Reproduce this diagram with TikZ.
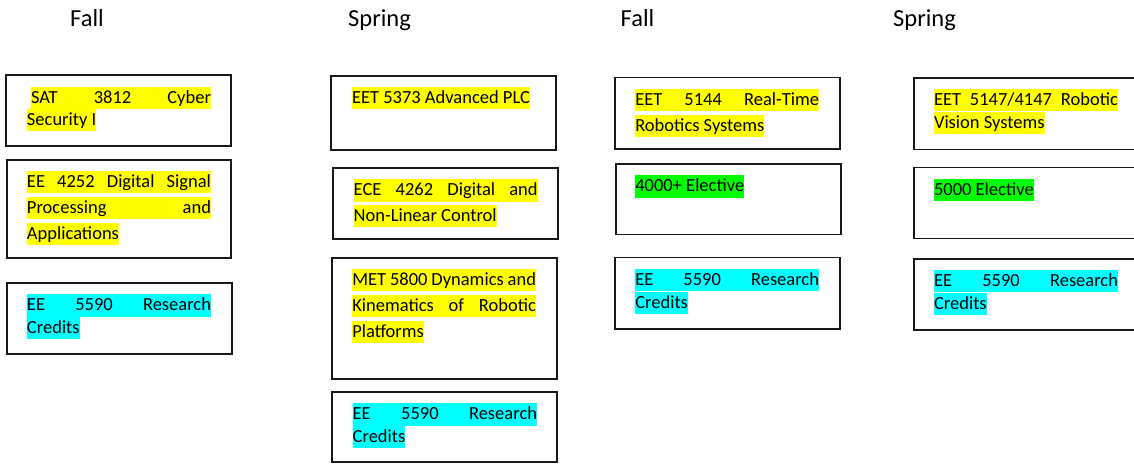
\documentclass[tikz,border=0pt]{standalone}
\usepackage{fontspec}
\setmainfont{Carlito}
\definecolor{hlyellow}{RGB}{255,255,0}
\definecolor{hlcyan}{RGB}{0,255,255}
\definecolor{hlgreen}{RGB}{0,255,0}
\begin{document}
\begin{tikzpicture}[x=1pt,y=-1pt,
  cbox/.style={draw=black!90, line width=1.6pt, inner sep=0pt, outer sep=0pt, anchor=north west},
  hl/.style={anchor=north west, inner sep=0pt, outer sep=0pt, text height=16.5pt, text depth=5.8pt, font=\fontsize{18.5}{22}\selectfont},
  yl/.style={hl, fill=hlyellow},
  cy/.style={hl, fill=hlcyan},
  gr/.style={hl, fill=hlgreen},
  head/.style={anchor=base west, inner sep=0pt, font=\fontsize{24.5}{28}\selectfont}]
\useasboundingbox (0,0) rectangle (1134,463);

% headers
\node[head] (h1) at (70,26.7) {Fall};
\node[head] (h2) at (348,26.7) {Spring};
\node[head] (h3) at (620.5,26.7) {Fall};
\node[head] (h4) at (893,26.7) {Spring};

% column 1
\node[cbox, minimum width=225pt, minimum height=71pt] (a1) at (6,75) {};
\node[cbox, minimum width=224pt, minimum height=98pt] (a2) at (7,160) {};
\node[cbox, minimum width=225pt, minimum height=71pt] (a3) at (7,283) {};
\node[yl] (a1l1) at (31,86.7) {\hbox to 180pt{SAT\hfill 3812\hfill Cyber}};
\node[yl] (a1l2) at (27,109) {Security I};
\node[yl] (a2l1) at (27,171) {\hbox to 184pt{EE\hfill 4252\hfill Digital\hfill Signal}};
\node[yl] (a2l2) at (27,197) {\hbox to 184pt{Processing\hfill and}};
\node[yl] (a2l3) at (27,223) {Applications};
\node[cy] (a3l1) at (27,294.3) {\hbox to 184pt{EE\hfill 5590\hfill Research}};
\node[cy] (a3l2) at (27,316.7) {Credits};

% column 2
\node[cbox, minimum width=225pt, minimum height=74.3pt] (b1) at (331,75.7) {};
\node[cbox, minimum width=225pt, minimum height=71.3pt] (b2) at (333,167.7) {};
\node[cbox, minimum width=225pt, minimum height=120.7pt] (b3) at (332,258) {};
\node[cbox, minimum width=225pt, minimum height=70.3pt] (b4) at (332,391.7) {};
\node[yl] (b1l1) at (352,86.5) {EET 5373 Advanced PLC};
\node[yl] (b2l1) at (353.7,179.3) {\hbox to 184pt{ECE\hfill 4262\hfill Digital\hfill and}};
\node[yl] (b2l2) at (353.7,205) {Non-Linear Control};
\node[yl] (b3l1) at (352.3,269) {\hbox to 183.7pt{MET\hfill 5800\hfill Dynamics\hfill and}};
\node[yl] (b3l2) at (352.3,295) {\hbox to 183.7pt{Kinematics\hfill of\hfill Robotic}};
\node[yl] (b3l3) at (352.3,321) {Platforms};
\node[cy] (b4l1) at (352.7,403.3) {\hbox to 184.3pt{EE\hfill 5590\hfill Research}};
\node[cy] (b4l2) at (352.7,425.7) {Credits};

% column 3
\node[cbox, minimum width=225.3pt, minimum height=71.7pt] (c1) at (614.7,77.3) {};
\node[cbox, minimum width=225pt, minimum height=70.3pt] (c2) at (615.7,164) {};
\node[cbox, minimum width=225pt, minimum height=71.4pt] (c3) at (615,257.3) {};
\node[yl] (c1l1) at (635.3,88.7) {\hbox to 183.7pt{EET\hfill 5144\hfill Real-Time}};
\node[yl] (c1l2) at (635.3,115) {Robotics Systems};
\node[gr] (c2l1) at (635.3,175.3) {4000+ Elective};
\node[cy] (c3l1) at (635.3,269) {\hbox to 183.7pt{EE\hfill 5590\hfill Research}};
\node[cy] (c3l2) at (635.3,291.7) {Credits};

% column 4
\node[cbox, minimum width=240pt, minimum height=71.6pt] (d1) at (913.7,77.7) {};
\node[cbox, minimum width=240pt, minimum height=71pt] (d2) at (913.7,167.3) {};
\node[cbox, minimum width=240pt, minimum height=71.3pt] (d3) at (913.7,258.7) {};
\node[yl] (d1l1) at (934,89) {\hbox to 184pt{EET\hfill 5147/4147\hfill Robotic}};
\node[yl] (d1l2) at (934,112) {Vision Systems};
\node[gr] (d2l1) at (934,179) {5000 Elective};
\node[cy] (d3l1) at (934,270) {\hbox to 184pt{EE\hfill 5590\hfill Research}};
\node[cy] (d3l2) at (934,292.7) {Credits};
\end{tikzpicture}
\end{document}
